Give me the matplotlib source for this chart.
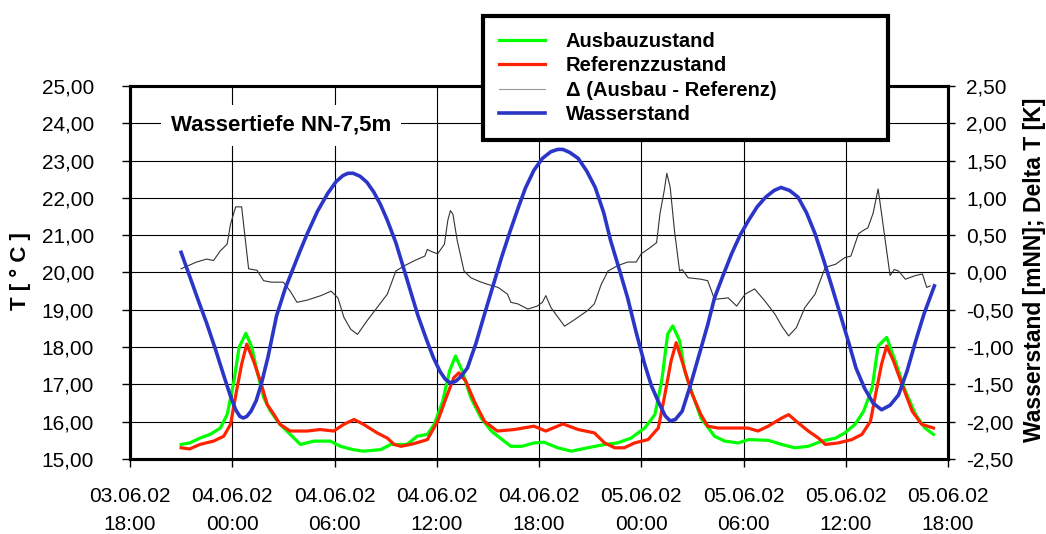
import numpy as np
import matplotlib
matplotlib.use('Agg')
import matplotlib.pyplot as plt
from matplotlib.ticker import FuncFormatter

plt.rcParams['font.family'] = ['Liberation Sans', 'DejaVu Sans']

# x values are hours after 03.06.02 18:00
tick_labels = ['03.06.02\n18:00', '04.06.02\n00:00', '04.06.02\n06:00', '04.06.02\n12:00',
               '04.06.02\n18:00', '05.06.02\n00:00', '05.06.02\n06:00', '05.06.02\n12:00',
               '05.06.02\n18:00']

# Ausbauzustand (green, left axis, deg C)
ausbau_h = [3.0, 3.5, 4.1, 4.7, 5.3, 5.7, 6.1, 6.4, 6.8, 7.15, 7.45, 7.85, 8.25, 8.8, 9.4, 10.0,
            10.8, 11.75, 12.35, 13.1, 13.7, 14.7, 15.3, 16.25, 16.85, 17.45, 17.85, 18.35, 18.75,
            19.1, 19.5, 20.0, 20.6, 21.2, 21.95, 22.35, 23.0, 23.7, 24.3, 25.1, 25.9, 26.85,
            27.85, 28.6, 29.4, 30.2, 30.8, 31.2, 31.55, 31.85, 32.25, 32.55, 33.0, 33.5, 34.3,
            34.9, 35.7, 36.3, 37.45, 38.25, 39.0, 39.8, 40.6, 41.4, 41.95, 42.55, 43.05, 43.55,
            43.9, 44.4, 44.9, 45.5, 46.1, 46.65, 47.15]
ausbau = [15.39, 15.43, 15.56, 15.66, 15.83, 16.19, 17.09, 17.99, 18.37, 17.99, 17.36, 16.64,
          16.28, 15.93, 15.66, 15.39, 15.48, 15.48, 15.34, 15.25, 15.21, 15.25, 15.39, 15.39,
          15.61, 15.66, 15.93, 16.55, 17.36, 17.76, 17.36, 16.64, 16.10, 15.75, 15.48, 15.34,
          15.34, 15.43, 15.45, 15.30, 15.21, 15.30, 15.39, 15.43, 15.56, 15.83, 16.19, 17.09,
          18.35, 18.57, 18.17, 17.36, 16.75, 16.10, 15.61, 15.48, 15.43, 15.52, 15.50, 15.39,
          15.30, 15.34, 15.48, 15.56, 15.70, 15.93, 16.28, 16.91, 18.03, 18.26, 17.63, 16.82,
          16.19, 15.83, 15.66]

# Referenzzustand (red, left axis, deg C)
ref_h = [3.0, 3.5, 4.1, 4.9, 5.5, 5.9, 6.25, 6.55, 6.85, 7.25, 7.65, 8.05, 8.45, 8.8, 9.4, 10.4,
         11.15, 11.95, 12.55, 13.15, 13.7, 14.5, 15.1, 15.5, 15.9, 16.65, 17.45, 18.05, 18.55,
         19.0, 19.3, 19.7, 20.2, 20.8, 21.55, 22.55, 23.7, 24.4, 25.4, 26.3, 27.25, 27.85, 28.45,
         29.0, 29.6, 30.4, 31.0, 31.35, 31.75, 32.05, 32.45, 32.95, 33.5, 33.9, 34.5, 35.5,
         36.25, 36.85, 37.45, 38.25, 38.65, 39.1, 39.8, 40.4, 40.8, 41.55, 42.35, 42.95, 43.45,
         43.75, 44.1, 44.4, 44.8, 45.3, 45.9, 46.45, 47.15]
ref = [15.30, 15.27, 15.39, 15.48, 15.61, 15.93, 16.82, 17.54, 18.08, 17.63, 17.09, 16.46, 16.19,
       15.93, 15.75, 15.75, 15.79, 15.75, 15.93, 16.06, 15.93, 15.70, 15.56, 15.39, 15.34, 15.41,
       15.52, 16.01, 16.64, 17.18, 17.31, 17.09, 16.55, 16.01, 15.75, 15.79, 15.88, 15.75, 15.94,
       15.79, 15.70, 15.43, 15.30, 15.30, 15.43, 15.52, 15.83, 16.64, 17.63, 18.12, 17.54, 16.78,
       16.19, 15.88, 15.83, 15.83, 15.83, 15.75, 15.88, 16.10, 16.19, 16.01, 15.75, 15.56, 15.39,
       15.43, 15.52, 15.66, 16.01, 16.73, 17.54, 18.03, 17.63, 17.00, 16.28, 15.93, 15.83]

# Delta (Ausbau - Referenz), right axis, K
delta_h = [3.0, 3.9, 4.5, 4.9, 5.3, 5.7, 5.9, 6.2, 6.55, 6.96, 7.45, 7.84, 8.3, 9.0, 9.4, 9.8,
           10.4, 11.2, 11.8, 12.2, 12.55, 12.95, 13.35, 13.9, 14.5, 15.1, 15.6, 16.1, 16.7, 17.3,
           17.45, 17.7, 18.05, 18.45, 18.65, 18.8, 18.95, 19.2, 19.6, 20.0, 20.5, 21.0, 21.6,
           22.15, 22.35, 22.75, 23.35, 23.9, 24.2, 24.4, 24.7, 25.5, 26.1, 26.85, 27.25, 27.65,
           28.05, 28.6, 29.2, 29.7, 30.0, 30.5, 30.9, 31.1, 31.35, 31.5, 31.7, 31.95, 32.25, 32.4,
           32.75, 33.5, 33.9, 34.3, 35.1, 35.6, 36.1, 36.65, 37.25, 37.85, 38.25, 38.65, 39.1,
           39.6, 40.2, 40.8, 41.4, 41.95, 42.3, 42.75, 43.0, 43.3, 43.6, 43.9, 44.1, 44.6, 44.85,
           45.1, 45.5, 46.1, 46.5, 46.75, 46.95]
delta = [0.05, 0.14, 0.18, 0.16, 0.29, 0.38, 0.65, 0.88, 0.88, 0.05, 0.03, -0.11, -0.13, -0.13,
         -0.25, -0.40, -0.37, -0.31, -0.25, -0.34, -0.60, -0.76, -0.83, -0.65, -0.47, -0.29, 0.02,
         0.09, 0.16, 0.22, 0.31, 0.28, 0.25, 0.38, 0.70, 0.83, 0.78, 0.43, 0.02, -0.07, -0.12,
         -0.16, -0.20, -0.29, -0.40, -0.42, -0.49, -0.45, -0.40, -0.31, -0.47, -0.72, -0.63, -0.51,
         -0.42, -0.16, 0.02, 0.09, 0.14, 0.14, 0.25, 0.33, 0.40, 0.79, 1.10, 1.33, 1.14, 0.56,
         0.02, 0.04, -0.07, -0.09, -0.11, -0.36, -0.34, -0.45, -0.29, -0.22, -0.38, -0.56, -0.72,
         -0.85, -0.74, -0.47, -0.29, 0.07, 0.11, 0.20, 0.22, 0.52, 0.56, 0.60, 0.79, 1.12, 0.79,
         -0.04, 0.04, 0.02, -0.09, -0.04, -0.02, -0.20, -0.18]

# Wasserstand (blue, right axis, mNN)
wasser_h = [3.0, 3.5, 4.0, 4.5, 5.0, 5.5, 5.9, 6.2, 6.45, 6.65, 6.85, 7.1, 7.4, 7.7, 8.1, 8.6,
            9.1, 9.6, 10.0, 10.4, 11.0, 11.6, 12.1, 12.5, 12.8, 13.1, 13.5, 13.9, 14.3, 14.7,
            15.1, 15.6, 16.0, 16.5, 16.9, 17.4, 17.8, 18.2, 18.5, 18.8, 19.1, 19.4, 19.8, 20.3,
            20.8, 21.3, 21.8, 22.3, 22.8, 23.2, 23.7, 24.2, 24.7, 25.1, 25.4, 25.8, 26.3, 26.8,
            27.3, 27.8, 28.2, 28.7, 29.2, 29.7, 30.2, 30.6, 31.0, 31.4, 31.7, 32.0, 32.4, 32.9,
            33.4, 33.9, 34.3, 34.8, 35.3, 35.8, 36.3, 36.8, 37.3, 37.8, 38.2, 38.7, 39.2, 39.7,
            40.2, 40.7, 41.2, 41.7, 42.2, 42.6, 43.1, 43.6, 44.1, 44.6, 45.1, 45.6, 46.1, 46.6,
            47.2]
wasser = [0.27, -0.05, -0.37, -0.68, -1.02, -1.38, -1.66, -1.84, -1.93, -1.95, -1.93, -1.86,
          -1.72, -1.50, -1.13, -0.58, -0.22, 0.07, 0.30, 0.52, 0.82, 1.06, 1.22, 1.30, 1.33, 1.33,
          1.29, 1.21, 1.08, 0.91, 0.70, 0.40, 0.10, -0.28, -0.58, -0.90, -1.14, -1.33, -1.43,
          -1.48, -1.46, -1.40, -1.28, -0.95, -0.56, -0.18, 0.20, 0.55, 0.88, 1.13, 1.37, 1.53,
          1.62, 1.65, 1.65, 1.61, 1.53, 1.36, 1.14, 0.80, 0.43, 0.05, -0.34, -0.80, -1.23, -1.52,
          -1.73, -1.92, -1.99, -1.97, -1.86, -1.50, -1.10, -0.70, -0.34, -0.04, 0.25, 0.50, 0.70,
          0.88, 1.01, 1.10, 1.14, 1.10, 1.01, 0.80, 0.52, 0.17, -0.20, -0.58, -0.96, -1.28, -1.55,
          -1.75, -1.84, -1.78, -1.64, -1.32, -0.92, -0.55, -0.18]

W, H = 1046, 534
fig = plt.figure(figsize=(W / 100, H / 100), dpi=100)
ax = fig.add_axes([130 / W, 1 - 459 / H, 818 / W, 373 / H])
ax2 = ax.twinx()

ax.plot(ausbau_h, ausbau, color='#00ff00', lw=2.3, label='Ausbauzustand')
ax.plot(ref_h, ref, color='#ff2200', lw=2.3, label='Referenzzustand')
ax2.plot(delta_h, delta, color='#333333', lw=0.8, label='\u0394 (Ausbau - Referenz)')
ax2.plot(wasser_h, wasser, color='#2b35c8', lw=2.6, label='Wasserstand')

comma = FuncFormatter(lambda v, p: f"{v:.2f}".replace('.', ','))

ax.set_xlim(0, 48)
ax.set_ylim(15, 25)
ax2.set_ylim(-2.5, 2.5)
ax.set_xticks(np.arange(0, 49, 6))
ax.set_xticklabels(tick_labels, linespacing=1.6)
ax.set_yticks(np.arange(15, 26, 1))
ax2.set_yticks(np.linspace(-2.5, 2.5, 11))
ax.yaxis.set_major_formatter(comma)
ax2.yaxis.set_major_formatter(comma)

ax.grid(True, color='black', lw=0.8)
ax.tick_params(axis='x', direction='out', length=6, width=1, pad=14, labelsize=15)
ax.tick_params(axis='y', direction='out', length=6, width=1, pad=20, labelsize=15)
ax2.tick_params(axis='y', direction='out', length=5, width=1, pad=8, labelsize=15)
for a in (ax, ax2):
    for s in a.spines.values():
        s.set_linewidth(2.2)

ax.text(8.86, 23.95, 'Wassertiefe NN-7,5m', ha='center', va='center', fontsize=16,
        fontweight='bold', zorder=5,
        bbox=dict(boxstyle='square,pad=0.45', fc='white', ec='none'))

fig.text(20 / W, 1 - 271 / H, 'T [ \u00b0 C ]', rotation=90, ha='center', va='center',
         fontsize=16, fontweight='bold')
fig.text(1035 / W, 1 - 270 / H, 'Wasserstand [mNN]; Delta T [K]', rotation=90,
         ha='center', va='center', fontsize=16.5, fontweight='bold')

handles = ax.get_lines() + ax2.get_lines()
leg = fig.legend(handles=handles, loc='upper left', mode='expand',
                 bbox_to_anchor=(483 / W, 1 - 138 / H, 405 / W, 122 / H),
                 prop={'weight': 'bold', 'size': 14.5}, fancybox=False, framealpha=1,
                 edgecolor='black', borderpad=0.8, labelspacing=0.26,
                 handlelength=2.3, handletextpad=1.0, borderaxespad=0)
leg.get_frame().set_linewidth(3)
leg.get_lines()[2].set_color('#999999')

fig.savefig('out.png', dpi=100)
